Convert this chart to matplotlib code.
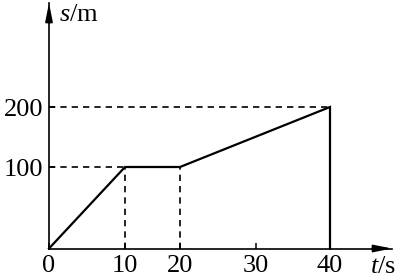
import numpy as np
from matplotlib import pyplot as plt
from matplotlib.scale import FuncScale

plt.rcParams['font.family'] = ['Liberation Serif', 'DejaVu Serif']
plt.rcParams['mathtext.fontset'] = 'custom'
plt.rcParams['mathtext.rm'] = 'Liberation Serif'
plt.rcParams['mathtext.it'] = 'Liberation Serif:italic'

# 数据
t = [0, 10, 20, 40, 40]
s = [0, 100, 100, 200, 0]
x_ticks = [0, 10, 20, 30, 40]
y_ticks = [100, 200]

# 原图刻度不等距，用分段线性映射还原
tx_nodes = [-100, 0, 10, 20, 30, 40, 100]
tx_px = [49 - 760, 49, 125, 180, 256, 330, 330 + 60 * 7.5]
sy_nodes = [-500, 0, 100, 200, 600]
sy_px = [30.5 - 500 * 0.8, 30.5, 112, 172, 172 + 400 * 0.6]


def fx(v):
    return np.interp(v, tx_nodes, tx_px)


def gx(p):
    return np.interp(p, tx_px, tx_nodes)


def fy(v):
    return np.interp(v, sy_nodes, sy_px)


def gy(p):
    return np.interp(p, sy_px, sy_nodes)


fig = plt.figure(figsize=(3.98, 2.79), dpi=100)
ax = fig.add_axes([0, 0, 1, 1])
ax.set_xscale(FuncScale(ax.xaxis, (fx, gx)))
ax.set_yscale(FuncScale(ax.yaxis, (fy, gy)))
ax.set_xlim(gx(0), gx(398))
ax.set_ylim(gy(0), gy(279))
ax.patch.set_visible(False)

x_tip = gx(392)
y_tip = gy(276)

# 坐标轴
for side in ['top', 'right']:
    ax.spines[side].set_visible(False)
ax.spines['bottom'].set_position(('data', 0))
ax.spines['left'].set_position(('data', 0))
ax.spines['bottom'].set_bounds(0, x_tip)
ax.spines['left'].set_bounds(0, y_tip)
for side in ['bottom', 'left']:
    ax.spines[side].set_linewidth(1.2)
arrow = dict(arrowstyle='-|>,head_length=1.1,head_width=0.22', color='black', lw=1.2,
             shrinkA=0, shrinkB=0)
ax.annotate('', xy=(x_tip, 0), xytext=(gx(372), 0), arrowprops=arrow)
ax.annotate('', xy=(0, y_tip), xytext=(0, gy(256)), arrowprops=arrow)

ax.set_xticks(x_ticks, [str(v) for v in x_ticks])
ax.set_yticks(y_ticks, [str(v) for v in y_ticks])
ax.xaxis.set_minor_locator(plt.NullLocator())
ax.yaxis.set_minor_locator(plt.NullLocator())
ax.tick_params(axis='x', direction='in', length=4, width=1.1, labelsize=19, pad=5)
ax.tick_params(axis='y', direction='in', length=4, width=1.1, labelsize=19, pad=4)

# 虚线
dash = dict(color='black', lw=1.2, dashes=(3.8, 3))
ax.plot([0, t[1]], [s[1], s[1]], **dash)
ax.plot([t[1], t[1]], [0, s[1]], **dash)
ax.plot([t[2], t[2]], [0, s[2]], **dash)
ax.plot([0, t[3]], [s[3], s[3]], **dash)

# 折线
ax.plot(t, s, color='black', lw=1.6, solid_joinstyle='miter')

ax.text(59 / 398, 1 - 15 / 279, '$s$/m', transform=ax.transAxes, fontsize=19,
        ha='left', va='center')
ax.text(383 / 398, 1 - 267 / 279, '$t$/s', transform=ax.transAxes, fontsize=19,
        ha='center', va='center')

fig.savefig('out.png', dpi=100)
